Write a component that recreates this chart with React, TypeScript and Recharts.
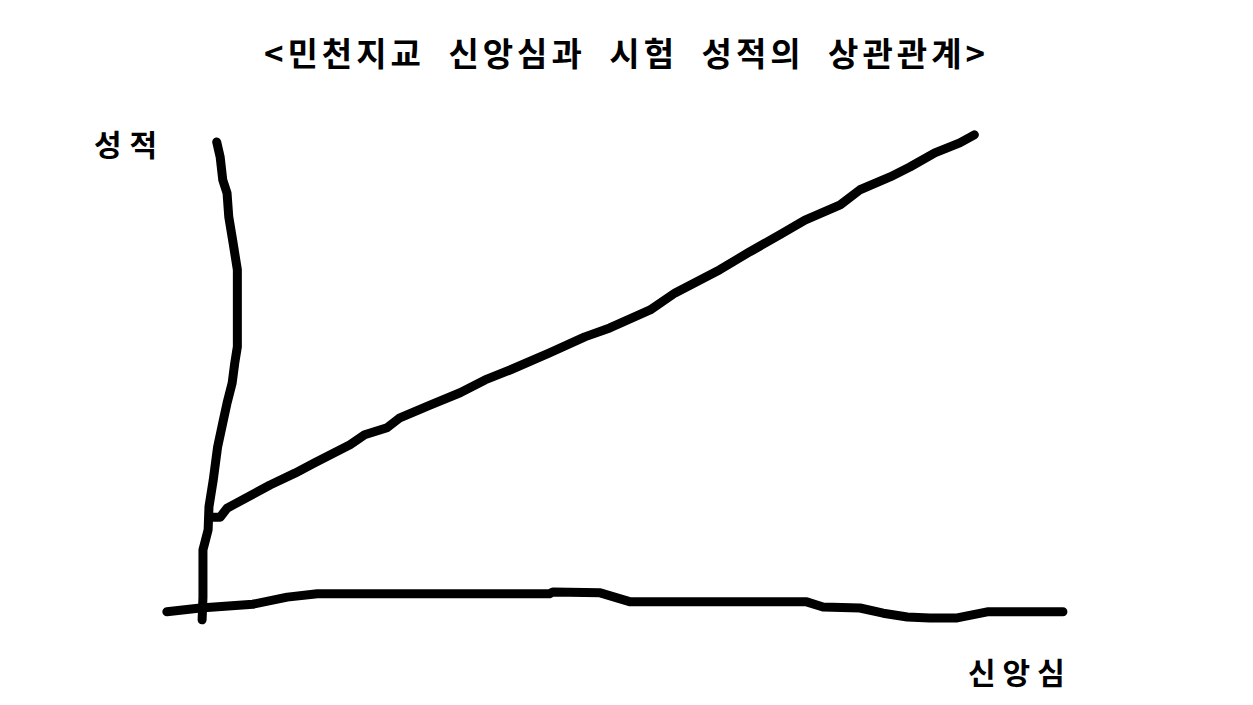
import React from 'react'
import { Line, LineChart, XAxis, YAxis } from 'recharts'

// hand-drawn strokes in chart units (신앙심 -> x, 성적 -> y)
const trendX = [0.8, 2.0, 2.8, 7.8, 10.7, 13.0, 17.1, 18.8, 21.4, 22.9, 26.4, 29.9, 32.8, 35.7, 40.3, 44.4, 47.3, 52.0, 54.9, 60.1, 63.6, 67.1, 70.0, 74.1, 76.4, 79.9, 82.2, 85.1, 88.0, 89.7]
const trendY = [19.2, 19.2, 21.1, 26.0, 28.5, 30.7, 34.5, 36.6, 38.1, 40.2, 42.9, 45.5, 48.2, 50.3, 53.9, 57.3, 59.2, 63.0, 66.6, 71.5, 75.3, 78.9, 82.0, 85.2, 88.4, 91.1, 93.2, 96.2, 98.3, 100.0]

const yAxisX = [1.6, 2.0, 2.3, 2.8, 3.0, 3.5, 4.0, 4.0, 3.7, 3.4, 2.8, 2.3, 1.7, 1.2, 0.7, 0.6, 0.0, 0.0, -0.1]
const yAxisY = [98.5, 95.3, 90.5, 87.7, 82.7, 77.2, 71.5, 55.2, 51.8, 47.6, 43.3, 39.1, 34.0, 27.1, 21.4, 16.5, 12.3, 2.3, -2.5]

const xAxisX = [-4.2, -0.3, 5.8, 9.8, 13.3, 40.3, 40.7, 46.2, 49.7, 70.2, 72.1, 76.4, 79.1, 81.9, 84.5, 87.7, 91.2, 100]
const xAxisY = [-0.8, 0, 0.8, 2.3, 3.0, 3.0, 3.4, 3.2, 1.3, 1.3, 0.2, 0, -1.1, -1.9, -2.1, -2.1, -0.8, -0.8]

const title = '<민천지교 신앙심과 시험 성적의 상관관계>'
const yLabel = '성적'
const xLabel = '신앙심'

const zip = (xs: number[], ys: number[]) => xs.map((x, i) => ({ x, y: ys[i] }))

const strokes = [
  { key: 'yaxis', data: zip(yAxisX, yAxisY) },
  { key: 'xaxis', data: zip(xAxisX, xAxisY) },
  { key: 'trend', data: zip(trendX, trendY) }
]

const font = '"Noto Sans CJK KR", "Noto Sans", sans-serif'

export default function App() {
  return (
    <div style={{ position: 'absolute', left: 0, top: 0, width: 1253, height: 705, background: '#fff' }}>
      <LineChart width={1253} height={705} margin={{ top: 0, right: 0, bottom: 0, left: 0 }}>
        <XAxis type="number" dataKey="x" domain={[-23.6, 122.1]} hide allowDataOverflow />
        <YAxis type="number" dataKey="y" domain={[-20.5, 128.5]} hide allowDataOverflow />
        {strokes.map((s) => (
          <Line
            key={s.key}
            data={s.data}
            dataKey="y"
            type="linear"
            stroke="#000"
            strokeWidth={9}
            strokeLinecap="round"
            strokeLinejoin="round"
            dot={false}
            activeDot={false}
            isAnimationActive={false}
          />
        ))}
      </LineChart>
      <div
        style={{
          position: 'absolute',
          left: 0,
          width: 1253,
          top: 30,
          textAlign: 'center',
          fontFamily: font,
          fontWeight: 700,
          fontSize: 33,
          lineHeight: '44px',
          letterSpacing: 4,
          wordSpacing: 12
        }}
      >
        {title}
      </div>
      <div style={{ position: 'absolute', left: 94, top: 123, fontFamily: font, fontWeight: 700, fontSize: 30, lineHeight: '40px', letterSpacing: 8 }}>
        {yLabel}
      </div>
      <div style={{ position: 'absolute', left: 968, top: 651, fontFamily: font, fontWeight: 700, fontSize: 30, lineHeight: '40px', letterSpacing: 7 }}>
        {xLabel}
      </div>
    </div>
  )
}
